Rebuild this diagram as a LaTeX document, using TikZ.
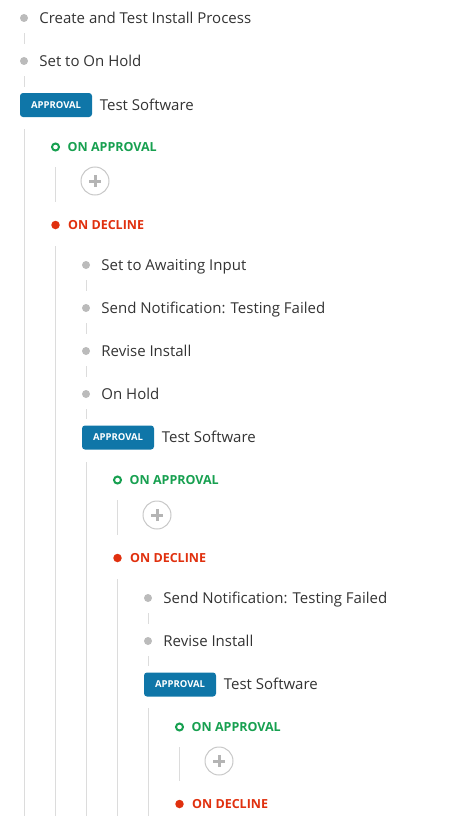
\documentclass[tikz,border=0pt]{standalone}
\usepackage{fontspec}
\setmainfont{Open Sans}
\usetikzlibrary{positioning}
\definecolor{txtdark}{HTML}{333333}
\definecolor{dotgray}{HTML}{BBBBBB}
\definecolor{railgray}{HTML}{DCDCDC}
\definecolor{badgeblue}{HTML}{0F76A8}
\definecolor{okgreen}{HTML}{17A050}
\definecolor{nored}{HTML}{E0300E}
\definecolor{plusgray}{HTML}{B4B4B4}
\definecolor{plusring}{HTML}{C8C8C8}
\tikzset{every node/.style={inner sep=0pt},
task/.style={circle, fill=dotgray, minimum size=8pt},
tasktext/.style={text=txtdark, font=\fontsize{15}{17}\selectfont, text height=10.7pt, text depth=0pt},
badge/.style={fill=badgeblue, rounded corners=3pt, text=white, minimum width=72pt, minimum height=24pt,
  font=\fontsize{9.5}{11}\selectfont\bfseries},
okring/.style={circle, draw=okgreen, line width=2pt, minimum size=7pt},
nodot/.style={circle, fill=nored, minimum size=8.5pt},
branch/.style={font=\fontsize{12.5}{14}\selectfont\bfseries, text height=9pt, text depth=0pt},
addbtn/.style={circle, draw=plusring, line width=1pt, minimum size=28pt,
  path picture={\draw[plusgray, line width=3pt]
    ([xshift=-6pt]path picture bounding box.center) -- ([xshift=6pt]path picture bounding box.center)
    ([yshift=-6pt]path picture bounding box.center) -- ([yshift=6pt]path picture bounding box.center);}},
rail/.style={draw=railgray, line width=1pt},
link/.style={rail, shorten <=11pt, shorten >=13pt},
}

\begin{document}
\begin{tikzpicture}[x=1pt, y=-1pt]
\useasboundingbox (0,0) rectangle (471,816);
\coordinate (bot) at (0,816);

% top level
\node[task] (a1) at (24,18) {};
\node[tasktext, right=11pt of a1] (a1t) {Create and Test Install Process};
\node[task] (a2) at (24,61) {};
\node[tasktext, right=11pt of a2] (a2t) {Set to On Hold};
\node[badge] (b1) at (56,105) {APPROVAL};
\node[tasktext, right=7.5pt of b1] (b1t) {Test Software};
\draw[link] (a1) -- (a2);
\draw[link, shorten >=6pt] (a2) -- (a2 |- b1.north);
\draw[rail, shorten <=12pt] (a2 |- b1.south) -- (a2 |- bot);

\node[okring] (ok1) at (55.5,147) {};
\node[branch, text=okgreen, right=7.5pt of ok1] (ok1t) {ON APPROVAL};
\node[addbtn] (add1) at (95,181) {};
\node[nodot] (no1) at (55.5,225) {};
\node[branch, text=nored, right=8pt of no1] (no1t) {ON DECLINE};
\draw[rail, shorten <=15.5pt, shorten >=18.5pt] (ok1) -- (no1);
\draw[rail, shorten <=17pt] (no1) -- (no1 |- bot);

% on decline, first
\node[task] (c1) at (86,265) {};
\node[tasktext, right=11pt of c1] (c1t) {Set to Awaiting Input};
\node[task] (c2) at (86,308) {};
\node[tasktext, right=11pt of c2] (c2t) {Send Notification: Testing Failed};
\node[task] (c3) at (86,351) {};
\node[tasktext, right=11pt of c3] (c3t) {Revise Install};
\node[task] (c4) at (86,394) {};
\node[tasktext, right=11pt of c4] (c4t) {On Hold};
\node[badge] (b2) at (118,437.5) {APPROVAL};
\node[tasktext, right=7.5pt of b2] (b2t) {Test Software};
\draw[link] (c1) -- (c2);
\draw[link] (c2) -- (c3);
\draw[link] (c3) -- (c4);
\draw[link, shorten >=6pt] (c4) -- (c4 |- b2.north);
\draw[rail, shorten <=12.5pt] (c4 |- b2.south) -- (c4 |- bot);

\node[okring] (ok2) at (117.5,480) {};
\node[branch, text=okgreen, right=7.5pt of ok2] (ok2t) {ON APPROVAL};
\node[addbtn] (add2) at (157,515) {};
\node[nodot] (no2) at (117.5,558) {};
\node[branch, text=nored, right=8pt of no2] (no2t) {ON DECLINE};
\draw[rail, shorten <=15.5pt, shorten >=18.5pt] (ok2) -- (no2);
\draw[rail, shorten <=17pt] (no2) -- (no2 |- bot);

% on decline, second
\node[task] (e1) at (148,598) {};
\node[tasktext, right=11pt of e1] (e1t) {Send Notification: Testing Failed};
\node[task] (e2) at (148,641) {};
\node[tasktext, right=11pt of e2] (e2t) {Revise Install};
\node[badge] (b3) at (180,684.5) {APPROVAL};
\node[tasktext, right=7.5pt of b3] (b3t) {Test Software};
\draw[link] (e1) -- (e2);
\draw[link, shorten >=6pt] (e2) -- (e2 |- b3.north);
\draw[rail, shorten <=11.5pt] (e2 |- b3.south) -- (e2 |- bot);

\node[okring] (ok3) at (179.5,727) {};
\node[branch, text=okgreen, right=7.5pt of ok3] (ok3t) {ON APPROVAL};
\node[addbtn] (add3) at (219,761) {};
\node[nodot] (no3) at (179.5,804) {};
\node[branch, text=nored, right=8pt of no3] (no3t) {ON DECLINE};
\draw[rail, shorten <=15.5pt, shorten >=18.5pt] (ok3) -- (no3);
\end{tikzpicture}
\end{document}
